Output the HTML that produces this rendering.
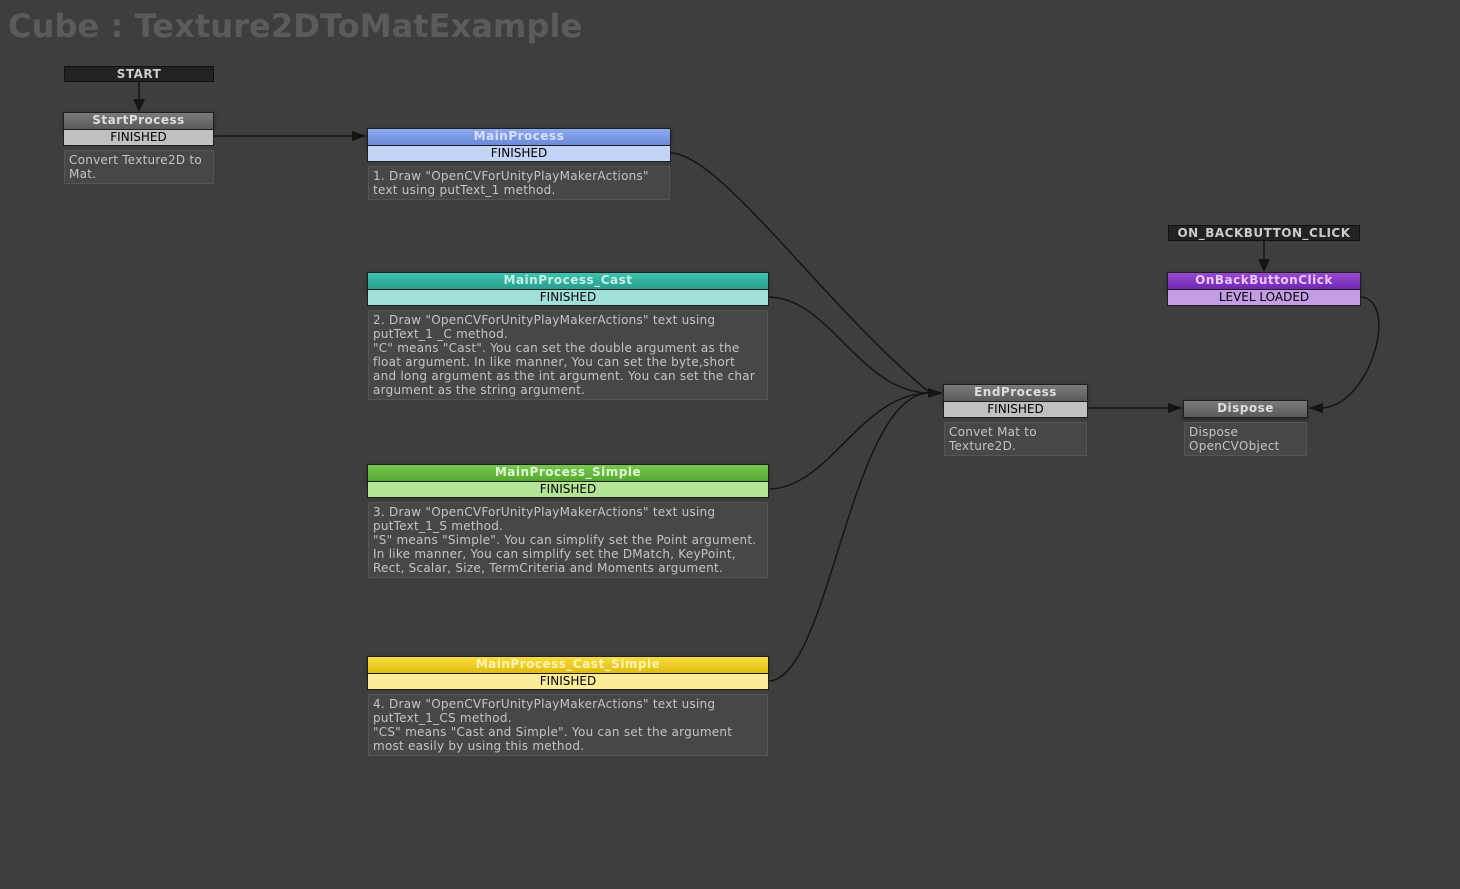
<!DOCTYPE html>
<html><head><meta charset="utf-8"><style>
body{margin:0;width:1460px;height:888px;background:#3e3e3e;position:relative;overflow:hidden;font-family:"DejaVu Sans","Liberation Sans",sans-serif;}
.w{position:absolute;left:0;top:1px;width:1460px;height:888px;}
.a{position:absolute;box-sizing:border-box;}
.t{position:absolute;left:8px;top:7px;font-size:32px;font-weight:bold;color:#5b5b5b;letter-spacing:0.1px}
.ev{background:#222;border:1px solid #111;color:#ccc;font-size:12px;font-weight:bold;text-align:center;line-height:14px;letter-spacing:0.5px}
.h{border:1px solid #1e1e1e;font-size:12px;font-weight:bold;text-align:center;line-height:15px;color:#ddd;box-shadow:0 2px 4px rgba(0,0,0,.4);letter-spacing:0.5px}
.r{border:1px solid #1e1e1e;border-top:none;font-size:12px;text-align:center;line-height:15px;color:#000}
.d{background:#474747;border:1px solid #555;font-size:12px;line-height:14px;color:#c4c4c4;padding:2px 6px 2px 4px;letter-spacing:0.25px}
</style></head><body>
<div class="t">Cube : Texture2DToMatExample</div>
<div class="w">
<svg class="a" style="left:0;top:0" width="1460" height="888">
<g fill="none" stroke="#151515" stroke-width="1.5">
<line x1="139" y1="80" x2="139" y2="100"/>
<line x1="214" y1="135" x2="352" y2="135"/>
<path d="M670 152 C720 152 820 300 930 392"/>
<path d="M768 296 C830 296 860 392 930 392"/>
<path d="M768 488 C830 488 860 392 930 392"/>
<path d="M768 680 C830 680 850 392 930 392"/>
<line x1="1087" y1="407" x2="1170" y2="407"/>
<line x1="1264" y1="240" x2="1264" y2="260"/>
<path d="M1361 296 C1400 300 1370 407 1320 407"/>
</g>
<g fill="#151515">
<polygon points="133,98 145,98 139,111"/>
<polygon points="352,130 352,140 367,135"/>
<polygon points="928,387 928,397 943,392"/>
<polygon points="1168,402 1168,412 1183,407"/>
<polygon points="1258,258 1270,258 1264,271"/>
<polygon points="1323,402 1323,412 1308,407"/>
</g>
</svg>
<div class="a ev" style="left:64px;top:65px;width:150px;height:16px">START</div>
<div class="a h" style="left:63px;top:111px;width:151px;height:18px;background:linear-gradient(#7a7a7a,#5a5a5a)">StartProcess</div>
<div class="a r" style="left:63px;top:129px;width:151px;height:16px;background:#c0c0c0">FINISHED</div>
<div class="a d" style="left:64px;top:149px;width:150px;height:34px">Convert Texture2D to Mat.</div>

<div class="a h" style="left:367px;top:127px;width:304px;height:18px;background:linear-gradient(#8eaaf0,#6a8ad8);color:#d6e0ff">MainProcess</div>
<div class="a r" style="left:367px;top:145px;width:304px;height:16px;background:#c4d4f6">FINISHED</div>
<div class="a d" style="left:368px;top:165px;width:302px;height:34px">1. Draw "OpenCVForUnityPlayMakerActions" text using putText_1 method.</div>

<div class="a h" style="left:367px;top:271px;width:402px;height:18px;background:linear-gradient(#3cc4b0,#2a9c8c);color:#c8f0ea">MainProcess_Cast</div>
<div class="a r" style="left:367px;top:289px;width:402px;height:16px;background:#a0e0d8">FINISHED</div>
<div class="a d" style="left:368px;top:309px;width:400px;height:90px">2. Draw "OpenCVForUnityPlayMakerActions" text using putText_1 _C method.<br>"C" means "Cast". You can set the double argument as the float argument. In like manner, You can set the byte,short<br>and long argument as the int argument. You can set the char argument as the string argument.</div>

<div class="a h" style="left:367px;top:463px;width:402px;height:18px;background:linear-gradient(#78c850,#54a830);color:#e0f8d0">MainProcess_Simple</div>
<div class="a r" style="left:367px;top:481px;width:402px;height:16px;background:#b4e496">FINISHED</div>
<div class="a d" style="left:368px;top:501px;width:400px;height:76px">3. Draw "OpenCVForUnityPlayMakerActions" text using putText_1_S method.<br>"S" means "Simple". You can simplify set the Point argument. In like manner, You can simplify set the DMatch, KeyPoint, Rect, Scalar, Size, TermCriteria and Moments argument.</div>

<div class="a h" style="left:367px;top:655px;width:402px;height:18px;background:linear-gradient(#f8dc40,#e0bc10);color:#fff4b0">MainProcess_Cast_Simple</div>
<div class="a r" style="left:367px;top:673px;width:402px;height:16px;background:#fcec98">FINISHED</div>
<div class="a d" style="left:368px;top:693px;width:400px;height:62px">4. Draw "OpenCVForUnityPlayMakerActions" text using putText_1_CS method.<br>"CS" means "Cast and Simple". You can set the argument most easily by using this method.</div>

<div class="a h" style="left:943px;top:383px;width:145px;height:18px;background:linear-gradient(#7a7a7a,#5a5a5a)">EndProcess</div>
<div class="a r" style="left:943px;top:401px;width:145px;height:16px;background:#c0c0c0">FINISHED</div>
<div class="a d" style="left:944px;top:421px;width:143px;height:34px">Convet Mat to Texture2D.</div>

<div class="a h" style="left:1183px;top:399px;width:125px;height:18px;background:linear-gradient(#7a7a7a,#5a5a5a)">Dispose</div>
<div class="a d" style="left:1184px;top:421px;width:123px;height:34px">Dispose OpenCVObject</div>

<div class="a ev" style="left:1168px;top:224px;width:192px;height:16px">ON_BACKBUTTON_CLICK</div>
<div class="a h" style="left:1167px;top:271px;width:194px;height:18px;background:linear-gradient(#9a48d0,#7028b0);color:#e8c8ff">OnBackButtonClick</div>
<div class="a r" style="left:1167px;top:289px;width:194px;height:16px;background:#c49ce4">LEVEL LOADED</div>
</div>
</body></html>
